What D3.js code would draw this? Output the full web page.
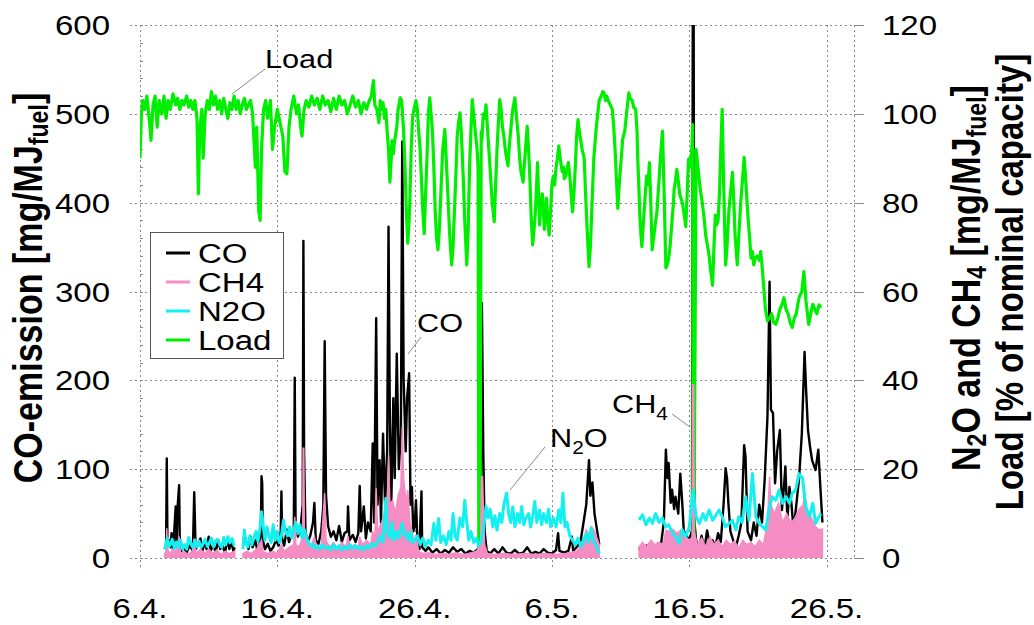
<!DOCTYPE html>
<html>
<head>
<meta charset="utf-8">
<script src="https://cdn.jsdelivr.net/npm/d3@7"></script>
<style>
  body { margin: 0; background: #fff; }
  svg { display: block; }
  text { font-family: "Liberation Sans", Arial, Helvetica, sans-serif; fill: #000; }
</style>
</head>
<body>
<svg id="chart" width="1034" height="625"></svg>
<script>
// ---- data (day 0 = 6.4.) ----
const dateDays = [0, 10, 20, 30, 40, 50];
const dateLabels = ["6.4.", "16.4.", "26.4.", "6.5.", "16.5.", "26.5."];
const leftTicks = [0, 100, 200, 300, 400, 500, 600];
const rightTicks = [0, 20, 40, 60, 80, 100, 120];
const legendNames = ["CO", "CH4", "N2O", "Load"];

// load, % of nominal capacity (right axis)
const loadSeries = [
  [0.0,90],[0.1,100],[0.2,103],[0.35,101],[0.5,104],[0.7,98],[0.8,94],[0.95,102],[1.1,104],[1.25,97],
  [1.4,103],[1.6,100],[1.75,104],[1.9,99],[2.05,103],[2.2,101],[2.4,104.5],[2.6,102],[2.75,103.5],[2.9,101],
  [3.05,103],[3.2,102],[3.4,104],[3.55,101.5],[3.7,103],[3.85,101],[4.0,103],[4.15,99],[4.25,82],[4.35,96],
  [4.5,101],[4.6,90],[4.75,100],[4.9,103],[5.05,101],[5.2,105],[5.35,102],[5.5,104],[5.65,101],[5.8,103],
  [5.95,100],[6.1,103.5],[6.25,101],[6.4,99],[6.55,102.5],[6.7,101],[6.85,104],[7.0,101],[7.15,103],[7.3,100],
  [7.45,102],[7.6,103.5],[7.75,101],[7.9,102],[8.05,103],[8.2,100],[8.4,88],[8.5,97],[8.65,78],[8.75,76],
  [8.85,92],[9.0,101],[9.15,103],[9.3,99],[9.5,103],[9.65,92],[9.8,97],[10.0,101],[10.2,98],[10.4,95],
  [10.55,87],[10.7,86.5],[10.85,97],[11.0,101],[11.2,104],[11.4,100],[11.55,102],[11.7,97],[11.8,95],[11.95,101],
  [12.1,103],[12.3,101.5],[12.5,104],[12.7,102],[12.9,103.5],[13.1,101],[13.3,104],[13.5,102],[13.7,103],[13.9,100.5],
  [14.1,103.5],[14.3,101],[14.5,104],[14.7,102],[14.9,103],[15.1,100],[15.3,102],[15.5,104],[15.7,101.5],[15.9,103],
  [16.1,100],[16.3,102.5],[16.5,101],[16.7,103],[16.85,104],[17.0,107.5],[17.1,102],[17.25,101],[17.4,98],[17.5,103],
  [17.6,101],[17.7,102.5],[17.8,99],[17.9,101],[18.0,96],[18.1,92],[18.2,84.6],[18.3,90],[18.35,94],[18.45,91],
  [18.5,92.8],[18.6,95],[18.7,97],[18.8,101],[18.95,103.6],[19.05,103],[19.1,101],[19.2,96],[19.3,88],[19.4,78],
  [19.5,70.9],[19.6,76],[19.65,80],[19.75,92],[19.85,99],[19.95,101],[20.1,103],[20.2,101],[20.3,96],[20.4,92],
  [20.5,85],[20.6,78],[20.7,73],[20.8,82],[20.9,90],[21.0,100],[21.1,103.6],[21.2,100],[21.3,96],[21.4,88],
  [21.5,78],[21.6,72],[21.7,69.4],[21.8,74],[21.95,85],[22.05,92],[22.2,96.5],[22.3,90],[22.45,80],[22.55,73],
  [22.7,66],[22.8,70],[22.95,82],[23.05,90],[23.1,95],[23.2,98],[23.3,100.2],[23.4,96],[23.55,85],[23.65,76],
  [23.8,66],[23.9,74],[24.0,88],[24.1,96],[24.2,103.2],[24.3,100],[24.45,95],[24.55,92],[24.62,88],[24.68,0],
  [24.76,0],[24.85,96],[24.9,94],[25.0,100],[25.1,99],[25.2,102],[25.3,97],[25.45,90],[25.55,85],[25.65,80],
  [25.8,75.7],[25.9,84],[26.0,92],[26.1,98],[26.2,103.2],[26.3,101],[26.4,97],[26.5,95],[26.6,92],[26.7,90],
  [26.8,88.3],[26.9,93],[27.05,98],[27.15,101],[27.3,103.6],[27.4,100],[27.55,95],[27.65,90],[27.75,87],[27.9,84.6],
  [28.0,89],[28.05,91],[28.15,95],[28.2,97.2],[28.3,92],[28.4,85],[28.5,76],[28.6,70.5],[28.7,74],[28.8,78],
  [28.9,85],[28.95,89],[29.05,80],[29.1,75],[29.2,79],[29.3,82],[29.4,77],[29.45,74],[29.55,79],[29.6,81],
  [29.7,76],[29.8,72.7],[29.9,78],[30.0,84],[30.1,86],[30.2,84],[30.3,88],[30.4,90],[30.5,92.8],[30.6,90],
  [30.75,87],[30.85,88],[30.9,85.4],[31.0,86],[31.1,87.5],[31.2,89],[31.3,86],[31.4,82],[31.5,77.9],[31.6,82],
  [31.7,88],[31.8,95],[31.9,98.7],[32.0,96],[32.1,94],[32.2,92],[32.35,90],[32.45,82],[32.55,75],[32.7,65.6],
  [32.8,70],[32.95,82],[33.05,90],[33.2,95.8],[33.3,99],[33.45,103.2],[33.6,104],[33.7,105],[33.8,104.7],[33.9,103],
  [34.0,104],[34.1,103],[34.25,102],[34.4,101],[34.5,97],[34.6,92],[34.7,85],[34.8,78.7],[34.9,84],[35.0,88],
  [35.1,92],[35.15,94.3],[35.3,96],[35.4,99],[35.5,102],[35.6,104.7],[35.7,103.5],[35.85,103],[35.95,101.5],[36.1,101],
  [36.2,96],[36.25,90],[36.35,82],[36.4,77.2],[36.5,72],[36.55,70.1],[36.65,75],[36.8,82],[36.9,86],[37.0,84],
  [37.1,89],[37.2,80],[37.3,69.4],[37.4,72],[37.55,75.7],[37.65,78],[37.8,85],[37.9,90],[38.05,96.1],[38.15,85],
  [38.3,65.3],[38.4,66],[38.5,67.5],[38.6,70],[38.75,76],[38.85,80],[38.9,83],[39.0,85],[39.1,87.5],[39.2,85],
  [39.3,82],[39.4,81],[39.5,80],[39.6,78],[39.75,74.6],[39.85,82],[39.95,89.8],[40.05,90],[40.1,88],[40.2,93],
  [40.25,97.6],[40.28,0],[40.34,0],[40.5,92],[40.6,89],[40.7,86],[40.8,83],[40.95,80],[41.1,76],[41.2,72.6],
  [41.35,70],[41.45,68],[41.55,65],[41.7,61.4],[41.8,70],[41.9,77.2],[42.0,75],[42.1,76],[42.2,82],[42.3,92],
  [42.4,101],[42.5,85],[42.65,66],[42.75,70],[42.9,78.7],[43.0,82],[43.15,86.8],[43.25,80],[43.35,72],[43.5,66],
  [43.6,72],[43.75,80],[43.9,86],[44.0,90.2],[44.1,86],[44.25,78],[44.4,72],[44.5,67.5],[44.6,69],[44.7,66],
  [44.8,67.5],[44.95,68],[45.1,67],[45.2,69],[45.3,66],[45.45,60],[45.55,56],[45.7,53.4],[45.85,54],[46.0,55],
  [46.15,53],[46.3,52.6],[46.45,54],[46.6,56],[46.75,57],[46.9,58.6],[47.05,56],[47.2,55],[47.35,53],[47.5,51.9],
  [47.65,54],[47.8,55],[47.9,57],[48.0,58.6],[48.2,60],[48.35,64.5],[48.5,58],[48.7,52.6],[48.85,55],[49.0,57.1],
  [49.15,56],[49.3,55],[49.45,57],[49.6,56.4]
];

// CO emission, mg/MJ (left axis); null = no data
const coSeries = [
  [1.8,10],[1.9,14],[1.95,112],[2.0,15],[2.1,20],[2.2,12],[2.3,28],[2.4,10],[2.5,32],[2.6,58],
  [2.65,12],[2.75,60],[2.85,82],[2.9,14],[3.0,8],[3.2,12],[3.4,6],[3.6,14],[3.85,8],[3.95,74],
  [4.05,10],[4.2,14],[4.4,22],[4.55,8],[4.7,18],[4.85,10],[5.0,24],[5.15,8],[5.35,16],[5.5,6],
  [5.7,20],[5.85,10],[6.0,14],[6.2,6],[6.35,22],[6.5,10],[6.65,18],[6.8,8],[6.9,12],[6.95,null],
  [7.5,14],[7.6,26],[7.75,18],[7.9,10],[8.05,24],[8.2,12],[8.4,20],[8.55,8],[8.7,14],[8.8,30],
  [8.85,92],[8.9,84],[8.95,20],[9.1,10],[9.3,16],[9.5,8],[9.7,12],[9.9,20],[10.1,14],[10.25,30],
  [10.3,75],[10.35,22],[10.5,14],[10.7,32],[10.85,18],[11.0,24],[11.2,30],[11.27,203],[11.33,40],[11.5,24],
  [11.7,36],[11.85,60],[11.9,357],[11.95,120],[12.05,30],[12.2,18],[12.4,25],[12.6,40],[12.7,62],[12.8,20],
  [13.0,16],[13.2,30],[13.35,58],[13.45,244],[13.55,70],[13.7,36],[13.9,24],[14.1,30],[14.3,20],[14.5,36],
  [14.7,18],[14.9,28],[15.1,30],[15.15,58],[15.25,20],[15.5,26],[15.7,18],[15.9,28],[16.0,81],[16.1,30],
  [16.3,58],[16.45,22],[16.6,40],[16.8,30],[16.95,129],[17.05,40],[17.2,270],[17.3,60],[17.45,110],[17.55,40],
  [17.7,140],[17.85,60],[18.0,120],[18.1,373],[18.2,150],[18.3,60],[18.45,180],[18.55,90],[18.7,230],[18.85,100],
  [19.0,140],[19.1,469],[19.2,200],[19.35,120],[19.45,180],[19.6,208],[19.7,60],[19.8,80],[19.9,30],[20.0,35],
  [20.1,65],[20.2,20],[20.35,10],[20.5,75],[20.55,12],[20.8,8],[21.0,12],[21.3,6],[21.6,10],[21.9,5],
  [22.2,9],[22.5,6],[22.8,12],[23.1,7],[23.4,10],[23.7,5],[24.0,8],[24.3,6],[24.6,10],[24.8,20],
  [24.9,287],[25.0,120],[25.1,30],[25.25,8],[25.5,5],[25.8,10],[26.1,5],[26.4,12],[26.7,6],[27.0,5],
  [27.3,9],[27.6,5],[27.9,6],[28.2,12],[28.5,5],[28.8,7],[29.1,5],[29.4,10],[29.7,6],[30.0,5],
  [30.3,9],[30.45,28],[30.55,8],[30.9,6],[31.2,8],[31.45,24],[31.55,8],[31.9,14],[32.1,20],[32.3,40],
  [32.5,60],[32.7,110],[32.8,70],[32.95,85],[33.1,50],[33.3,30],[33.45,15],[33.5,null],
  [36.35,12],[36.5,6],[36.7,10],[36.9,14],[37.1,5],[37.3,12],[37.5,8],[37.7,16],[37.9,10],[38.15,40],
  [38.3,122],[38.4,90],[38.5,107],[38.65,62],[38.75,77],[38.9,55],[39.0,69],[39.2,50],[39.35,95],[39.5,60],
  [39.6,31],[39.8,25],[40.0,20],[40.2,31],[40.26,640],[40.32,640],[40.38,40],[40.5,20],[40.7,12],[40.9,25],
  [41.1,9],[41.3,31],[41.5,15],[41.7,20],[41.9,12],[42.1,28],[42.3,18],[42.5,60],[42.65,101],[42.75,90],
  [42.85,62],[43.0,30],[43.2,20],[43.4,12],[43.6,25],[43.8,40],[44.0,127],[44.1,114],[44.25,30],[44.5,20],
  [44.7,40],[44.9,25],[45.1,60],[45.3,40],[45.5,90],[45.7,160],[45.85,311],[45.95,167],[46.1,163],[46.25,84],
  [46.4,120],[46.6,144],[46.75,54],[46.9,80],[47.0,103],[47.15,43],[47.3,80],[47.45,60],[47.6,31],[47.8,60],
  [48.0,90],[48.2,140],[48.4,232],[48.5,193],[48.65,144],[48.8,125],[48.95,110],[49.2,99],[49.4,122],[49.55,80],
  [49.7,40]
];

// CH4, mg/MJ (right axis)
const ch4Series = [
  [1.8,1],[1.9,1.5],[1.95,6.7],[2.0,2],[2.2,1],[2.4,2],[2.6,1.5],[2.75,3],[2.85,4.8],[2.95,1],
  [3.2,1.5],[3.5,0.8],[3.8,1.5],[3.95,4.4],[4.05,1],[4.4,2],[4.7,1],[5.0,2],[5.3,1],[5.6,1.8],
  [5.9,0.8],[6.2,1.5],[6.5,1],[6.9,1.5],[6.95,null],
  [7.5,1],[7.8,1.5],[8.1,1],[8.5,2],[8.85,4],[8.95,1.5],[9.3,1],[9.7,1.5],[10.0,1],[10.3,3],
  [10.5,1.5],[10.9,2.5],[11.2,3],[11.27,9.3],[11.35,3],[11.6,2.5],[11.85,5],[11.88,24.7],[11.93,24.7],[11.97,6],
  [12.2,2.5],[12.5,3],[12.7,4.8],[12.9,2],[13.2,3],[13.45,14.6],[13.55,4],[13.8,2.5],[14.1,3.5],[14.4,2],
  [14.7,3.5],[15.0,2.5],[15.15,5],[15.3,2],[15.6,3],[15.9,2.5],[16.0,4.8],[16.2,3],[16.5,4],[16.8,3],
  [16.95,6],[17.1,4],[17.2,15.7],[17.3,6],[17.6,8],[17.8,10],[18.0,9],[18.1,22.8],[18.2,12],[18.4,13],
  [18.6,10],[18.8,14],[19.0,16],[19.1,29.6],[19.2,18],[19.4,12],[19.5,15.3],[19.65,8],[19.8,6.3],[20.0,3],
  [20.1,5],[20.3,1.5],[20.6,1],[21.0,1.2],[21.5,0.8],[22.0,1],[22.5,0.8],[23.0,1.2],[23.5,0.8],[24.0,1],
  [24.5,1.5],[24.8,3],[24.88,18.3],[24.95,18.3],[25.0,12],[25.1,3],[25.3,1],[25.8,0.8],[26.5,1],[27.2,0.8],
  [28.0,1],[28.8,0.8],[29.5,1],[30.3,0.8],[31.0,1],[31.8,1.5],[32.2,3],[32.5,6.3],[32.8,5],[32.9,7],
  [33.1,6],[33.45,3],[33.5,null],
  [36.35,2.5],[36.6,3.5],[36.9,2.5],[37.2,4],[37.5,3],[37.8,3.5],[38.1,3],[38.3,6.3],[38.5,6],[38.8,6.5],
  [39.1,5.5],[39.4,6.3],[39.7,5],[40.0,4],[40.22,4.8],[40.25,39],[40.33,39],[40.36,6],[40.6,3],[40.9,4.5],
  [41.2,2.5],[41.5,4.8],[41.8,3],[42.1,4],[42.4,2.5],[42.7,4],[43.0,3],[43.3,3.8],[43.6,2.2],[43.9,4],
  [44.2,3],[44.5,3.5],[44.8,2.5],[45.1,4],[45.4,3],[45.7,8],[45.85,18.3],[45.95,12],[46.2,10],[46.5,12.3],
  [46.8,8],[47.1,10],[47.4,7.8],[47.7,9],[48.0,11],[48.3,12],[48.4,15.3],[48.6,10],[48.9,9],[49.2,7],
  [49.5,6.3],[49.7,6.5]
];

// N2O, mg/MJ (right axis)
const n2oSeries = [
  [1.8,2],[1.9,3.5],[2.0,4.5],[2.1,2.5],[2.2,3],[2.35,4.2],[2.5,2.2],[2.65,3.6],[2.8,2.4],[2.95,4],
  [3.1,2],[3.25,3],[3.4,2],[3.55,4.6],[3.7,3.2],[3.85,2.4],[4.0,4],[4.15,2.5],[4.3,3.8],[4.45,2.4],
  [4.6,3.2],[4.75,4.2],[4.9,2.6],[5.05,3.4],[5.2,4.5],[5.35,2.5],[5.5,3.8],[5.65,4.2],[5.8,3],[5.95,2.4],
  [6.1,4.6],[6.25,3],[6.4,4.8],[6.55,3.4],[6.7,4.4],[6.85,2.8],[6.95,null],
  [7.5,2],[7.6,6.3],[7.7,3.5],[7.85,2.5],[8.0,5],[8.15,3],[8.3,4.5],[8.45,6],[8.6,3.8],[8.75,7],
  [8.85,10.4],[8.95,8],[9.1,4],[9.25,7],[9.4,5],[9.55,3.5],[9.7,7.5],[9.85,4],[10.0,6],[10.15,3.5],
  [10.3,5],[10.45,8.5],[10.6,6],[10.75,5],[10.9,7],[11.05,4.5],[11.2,6.5],[11.35,8],[11.5,5.5],[11.65,7.5],
  [11.8,4.5],[11.95,6.5],[12.1,5],[12.25,3.5],[12.4,2.8],[12.55,3.2],[12.7,2.2],[12.9,2.8],[13.1,2],[13.3,3],
  [13.5,2.2],[13.7,2.6],[13.9,1.8],[14.1,3],[14.3,2],[14.5,2.8],[14.7,1.8],[14.9,2.6],[15.1,2],[15.3,3],
  [15.5,2.2],[15.7,2.8],[15.9,2],[16.1,2.6],[16.3,1.8],[16.5,2.8],[16.7,2.2],[16.9,3.3],[17.1,2.6],[17.3,3.5],
  [17.5,5],[17.7,3.5],[17.9,13.4],[18.0,6],[18.2,4.5],[18.35,8],[18.5,4],[18.7,6],[18.85,4.5],[19.1,7.8],
  [19.25,5],[19.4,5.5],[19.55,4],[19.7,6],[19.85,3.5],[20.0,4],[20.2,5],[20.4,3],[20.6,4.5],[20.8,2.6],
  [21.0,4],[21.2,3],[21.4,7.8],[21.55,4],[21.75,8.9],[21.9,3.5],[22.1,5],[22.3,3],[22.5,6],[22.65,4],
  [22.8,10],[22.95,5],[23.1,4],[23.3,9],[23.5,7],[23.65,13],[23.8,8],[23.95,4],[24.1,6],[24.3,3.5],
  [24.5,4.5],[24.65,2.8],[24.8,3.5],[25.0,6],[25.2,11.6],[25.35,9],[25.5,11],[25.7,7],[25.85,9.5],[26.0,6.3],
  [26.2,10],[26.35,8],[26.5,12],[26.7,14.6],[26.85,10],[27.0,8],[27.15,11.5],[27.3,7],[27.5,10],[27.65,8],
  [27.8,11.6],[27.95,7.5],[28.1,9],[28.3,10],[28.45,7],[28.6,9.5],[28.75,12.7],[28.9,8],[29.1,10.8],[29.25,7.5],
  [29.4,10],[29.6,8],[29.75,11],[29.9,7],[30.1,9],[30.3,7],[30.5,10.8],[30.65,8],[30.8,14.6],[30.95,7],
  [31.1,8],[31.3,5],[31.5,4],[31.7,3],[31.9,4.5],[32.1,2.5],[32.3,4],[32.5,5.5],[32.65,3.5],[32.85,6.7],
  [33.0,4],[33.2,3],[33.45,1],[33.5,null],
  [36.35,8.6],[36.6,9.7],[36.85,7.5],[37.1,9],[37.32,7.8],[37.55,10],[37.8,8],[38.05,9],[38.29,7],[38.5,7.5],
  [38.8,5.5],[39.0,4.8],[39.26,3.3],[39.5,6.3],[39.75,4.8],[40.0,7],[40.28,15.3],[40.5,9.3],[40.75,7.8],[41.0,10],
  [41.2,8.5],[41.45,10.8],[41.7,8.5],[41.95,9.7],[42.17,10.8],[42.4,9.3],[42.65,7],[42.9,7.8],[43.14,8.5],[43.4,6.3],
  [43.6,9.3],[43.85,8],[44.11,13.8],[44.35,8.5],[44.6,19],[44.85,9.3],[45.1,7.8],[45.35,7],[45.57,6.3],[45.8,10.8],
  [46.05,13.8],[46.3,13],[46.54,15.3],[46.8,12.3],[47.05,13.8],[47.3,12.3],[47.5,14.6],[47.75,15.3],[47.99,19],[48.25,18],
  [48.48,11.6],[48.75,9.3],[49.0,12.3],[49.2,7.8],[49.45,9.3],[49.6,10]
];

// ---- chart ----
const svg = d3.select("#chart");
const plot = { left: 140, right: 854, top: 25, bottom: 558 };
const SX = 1.18; // the original figure is stretched horizontally

const x = d3.scaleLinear().domain([0, 52]).range([plot.left, plot.right]);
const yL = d3.scaleLinear().domain([0, 600]).range([plot.bottom, plot.top]);
const yR = d3.scaleLinear().domain([0, 120]).range([plot.bottom, plot.top]);

const colors = { CO: "#000000", CH4: "#f58cc3", N2O: "#14f0f0", Load: "#00ee00" };

// text helper: optional subscripts
function rich(sel, parts, size, subShift) {
  let cur = 0;
  parts.forEach(([s, sub]) => {
    const target = sub ? subShift : 0;
    sel.append("tspan")
      .attr("font-size", sub ? size * 0.68 : size)
      .attr("dy", target - cur)
      .text(s);
    cur = target;
  });
  return sel;
}

// grid
const grid = svg.append("g")
  .attr("stroke", "#8a8a8a")
  .attr("stroke-width", 1)
  .attr("stroke-dasharray", "2,3")
  .attr("fill", "none");

grid.selectAll("line.h").data(leftTicks).join("line").attr("class", "h")
  .attr("x1", plot.left - 10).attr("x2", plot.right)
  .attr("y1", d => Math.round(yL(d)) + 0.5).attr("y2", d => Math.round(yL(d)) + 0.5);

grid.selectAll("line.v").data(dateDays).join("line").attr("class", "v")
  .attr("x1", d => Math.round(x(d)) + 0.5).attr("x2", d => Math.round(x(d)) + 0.5)
  .attr("y1", plot.top).attr("y2", plot.bottom + 10);

grid.append("line")
  .attr("x1", plot.right + 0.5).attr("x2", plot.right + 0.5)
  .attr("y1", plot.top).attr("y2", plot.bottom);

// minor ticks on left axis
svg.append("g").attr("stroke", "#8a8a8a")
  .selectAll("line").data(yL.ticks(30)).join("line")
  .attr("x1", plot.left).attr("x2", plot.left + 3)
  .attr("y1", d => Math.round(yL(d)) + 0.5).attr("y2", d => Math.round(yL(d)) + 0.5);

// right ticks
svg.append("g").attr("stroke", "#8a8a8a")
  .selectAll("line").data(rightTicks).join("line")
  .attr("x1", plot.right).attr("x2", plot.right + 10)
  .attr("y1", d => Math.round(yR(d)) + 0.5).attr("y2", d => Math.round(yR(d)) + 0.5);

// tick labels
svg.append("g").selectAll("text").data(leftTicks).join("text")
  .attr("transform", d => `translate(110,${yL(d)}) scale(${SX},1)`)
  .attr("text-anchor", "end").attr("dy", "0.36em").attr("font-size", 28)
  .text(d => d);

svg.append("g").selectAll("text").data(rightTicks).join("text")
  .attr("transform", d => `translate(882,${yR(d)}) scale(${SX},1)`)
  .attr("text-anchor", "start").attr("dy", "0.36em").attr("font-size", 28)
  .text(d => d);

svg.append("g").selectAll("text").data(dateDays).join("text")
  .attr("transform", d => `translate(${x(d)},618) scale(${SX},1)`)
  .attr("text-anchor", "middle").attr("font-size", 28)
  .text((d, i) => dateLabels[i]);

// axis titles
rich(svg.append("text")
  .attr("transform", `translate(42,288) scale(${SX},1) rotate(-90)`)
  .attr("text-anchor", "middle").attr("font-weight", "bold"),
  [["CO-emission [mg/MJ", 0], ["fuel", 1], ["]", 0]], 34, 5);

rich(svg.append("text")
  .attr("transform", `translate(980,278) scale(${SX},1) rotate(-90)`)
  .attr("text-anchor", "middle").attr("font-weight", "bold"),
  [["N", 0], ["2", 1], ["O and CH", 0], ["4", 1], [" [mg/MJ", 0], ["fuel", 1], ["]", 0]], 34, 5);

svg.append("text")
  .attr("transform", `translate(1023,282) scale(${SX},1) rotate(-90)`)
  .attr("text-anchor", "middle").attr("font-weight", "bold").attr("font-size", 33)
  .text("Load [% of nominal capacity]");

// series
svg.append("clipPath").attr("id", "clip").append("rect")
  .attr("x", plot.left).attr("y", plot.top)
  .attr("width", plot.right - plot.left).attr("height", plot.bottom - plot.top);

const series = svg.append("g").attr("clip-path", "url(#clip)");
const has = d => d[1] != null;

const lineLeft = d3.line().defined(has).x(d => x(d[0])).y(d => yL(d[1]));
const lineRight = d3.line().defined(has).x(d => x(d[0])).y(d => yR(d[1]));
const areaRight = d3.area().defined(has).x(d => x(d[0])).y0(yR(0)).y1(d => yR(d[1]));

series.append("path").datum(coSeries)
  .attr("d", lineLeft).attr("fill", "none")
  .attr("stroke", colors.CO).attr("stroke-width", 2.4).attr("stroke-linejoin", "round");

series.append("path").datum(loadSeries)
  .attr("d", lineRight).attr("fill", "none")
  .attr("stroke", colors.Load).attr("stroke-width", 3.2).attr("stroke-linejoin", "round");

series.append("path").datum(ch4Series)
  .attr("d", areaRight).attr("fill", colors.CH4)
  .attr("stroke", colors.CH4).attr("stroke-width", 1.5);

series.append("path").datum(n2oSeries)
  .attr("d", lineRight).attr("fill", "none")
  .attr("stroke", colors.N2O).attr("stroke-width", 3).attr("stroke-linejoin", "round");

// annotations
const notes = svg.append("g");
const leader = (x1, y1, x2, y2) => notes.append("line")
  .attr("x1", x1).attr("y1", y1).attr("x2", x2).attr("y2", y2)
  .attr("stroke", "#8a8a8a").attr("stroke-width", 1);

leader(265, 69, 232, 94);
notes.append("text").attr("transform", `translate(265,68) scale(${SX},1)`).attr("font-size", 26).text("Load");

leader(421, 337, 408, 354);
notes.append("text").attr("transform", `translate(417,332) scale(${SX},1)`).attr("font-size", 26).text("CO");

leader(545, 447, 510, 490);
rich(notes.append("text").attr("transform", `translate(550,447) scale(${SX},1)`),
  [["N", 0], ["2", 1], ["O", 0]], 26, 7);

leader(672, 414, 690, 427);
rich(notes.append("text").attr("transform", `translate(612,413) scale(${SX},1)`),
  [["CH", 0], ["4", 1]], 26, 7);

// legend
const legend = svg.append("g");
legend.append("rect")
  .attr("x", 150.5).attr("y", 232.5).attr("width", 133).attr("height", 126)
  .attr("fill", "#fff").attr("stroke", "#555").attr("stroke-width", 1);

const legendY = d3.scalePoint().domain(legendNames).range([253, 340]);
const item = legend.selectAll("g").data(legendNames).join("g")
  .attr("transform", d => `translate(0,${legendY(d)})`);
item.append("line").attr("x1", 166).attr("x2", 190)
  .attr("stroke", d => colors[d]).attr("stroke-width", 3);
item.append("text")
  .attr("transform", `translate(198,0) scale(${SX},1)`)
  .attr("dy", "0.36em").attr("font-size", 28)
  .text(d => d);
</script>
</body>
</html>
